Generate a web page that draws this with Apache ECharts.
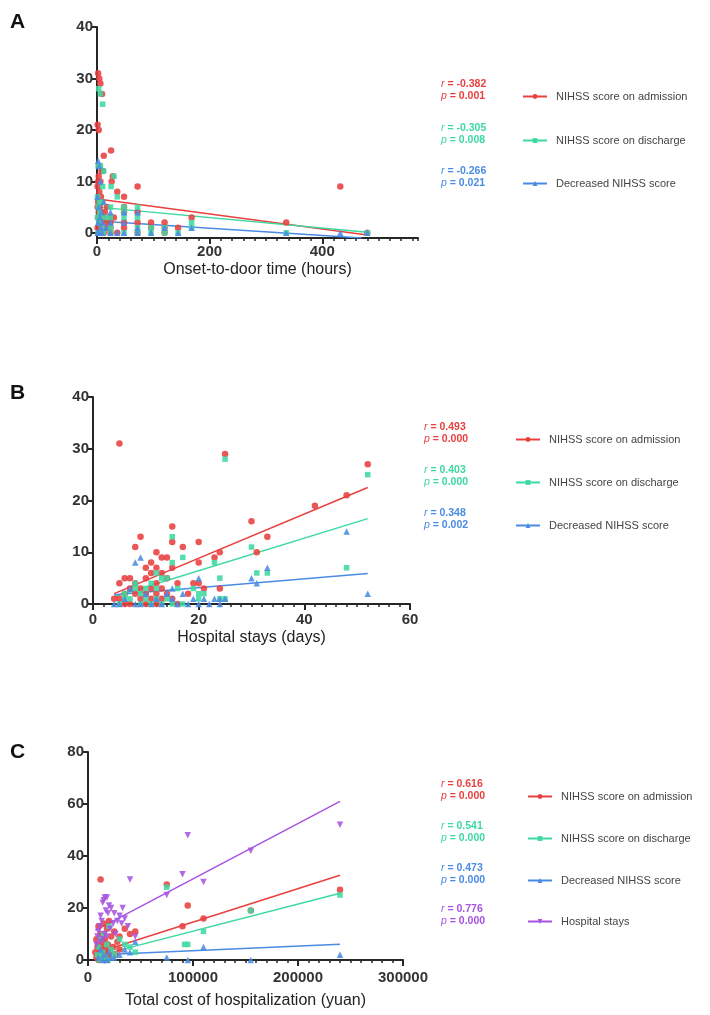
<!DOCTYPE html>
<html>
<head>
<meta charset="utf-8">
<script src="https://cdn.jsdelivr.net/npm/echarts@6/dist/echarts.min.js"></script>
<style>html,body{margin:0;padding:0;background:#fff;}#c{width:710px;height:1015px;}</style>
</head>
<body>
<div id="c"></div>
<script>
// ---------- Data ----------
const seriesNamesA = ['NIHSS score on admission', 'NIHSS score on discharge', 'Decreased NIHSS score'];
const seriesNamesC = ['NIHSS score on admission', 'NIHSS score on discharge', 'Decreased NIHSS score', 'Hospital stays'];
const xTitleA = 'Onset-to-door time (hours)';
const xTitleB = 'Hospital stays (days)';
const xTitleC = 'Total cost of hospitalization (yuan)';
const xLabelsA = [0, 200, 400];
const xLabelsB = [0, 20, 40, 60];
const xLabelsC = [0, 100000, 200000, 300000];
const yLabelsA = [0, 10, 20, 30, 40];
const yLabelsB = [0, 10, 20, 30, 40];
const yLabelsC = [0, 20, 40, 60, 80];

// Panel A: onset-to-door time (h) vs score
const aAdmission = [[2,31],[4,30],[6,29],[9,27],[1,21],[3,20],[12,15],[5,13],[8,12],[3,11],[10,12],[2,10],[6,10],[1,9],[4,8],[7,7],[2,6],[9,6],[5,5],[1,5],[3,4],[8,4],[11,3],[2,3],[6,2],[4,2],[10,1],[1,1],[7,0],[3,0],[12,0],
  [25,16],[28,11],[26,10],[24,3],[24,2],[24,1],[24,0],[36,8],[48,7],[48,5],[48,4],[48,2],[48,1],[72,9],[72,4],[72,2],[72,0],[96,2],[96,1],[120,2],[120,1],[120,0],[144,1],[168,3],[336,2],[432,9],[480,0],[18,5],[16,2],[20,1],[14,4],[30,3],[36,0]];
const aDischarge = [[3,28],[6,27],[10,25],[2,13],[6,13],[12,12],[1,7],[4,6],[8,6],[2,5],[10,9],[5,4],[1,3],[7,3],[3,2],[9,1],[2,0],[5,0],[11,0],[25,9],[24,5],[24,3],[24,1],[24,0],[48,5],[48,4],[48,3],[48,0],[72,5],[72,3],[72,1],[72,0],[96,1],[96,0],[120,1],[120,0],[144,0],[168,2],[168,1],[336,0],[480,0],[30,11],[36,7],[16,3]];
const aDecreased = [[2,14],[4,13],[6,10],[1,7],[3,5],[8,4],[5,3],[2,2],[10,2],[7,1],[1,0],[4,0],[9,0],[24,4],[24,2],[24,0],[36,0],[48,4],[48,2],[48,0],[72,4],[72,1],[72,0],[96,0],[120,1],[144,0],[168,1],[336,0],[432,0],[480,0],[12,6],[16,1]];
const aFitAdmission = [[1,6.6],[480,-0.4]];
const aFitDischarge = [[1,5.0],[480,0.1]];
const aFitDecreased = [[1,2.3],[470,-1.0]];
const aStats = [['-0.382','0.001'],['-0.305','0.008'],['-0.266','0.021']];

// Panel B: hospital stays (days) vs score
const bAdmission = [[5,31],[25,29],[52,27],[48,21],[42,19],[30,16],[15,15],[33,13],[9,13],[15,12],[20,12],[8,11],[17,11],[31,10],[24,10],[12,10],[13,9],[14,9],[23,9],[20,8],[11,8],[12,7],[10,7],[15,7],[13,6],[11,6],[10,5],[6,5],[7,5],[14,5],[12,4],[5,4],[8,4],[16,4],[19,4],[20,4],[9,3],[7,3],[11,3],[13,3],[21,3],[24,3],[6,2],[10,2],[12,2],[8,2],[14,2],[18,2],[5,1],[9,1],[11,1],[13,1],[15,1],[4,1],[7,0],[10,0],[12,0],[16,0],[6,0]];
const bDischarge = [[25,28],[52,25],[15,13],[30,11],[17,9],[15,8],[23,8],[48,7],[33,6],[31,6],[24,5],[12,6],[13,5],[14,5],[11,4],[10,3],[8,3],[9,2],[12,3],[16,3],[19,3],[20,2],[21,2],[14,1],[6,1],[7,1],[10,1],[11,0],[13,0],[5,0],[9,0],[15,0],[17,0],[20,1],[24,1],[25,1],[8,4],[12,1],[6,2]];
const bDecreased = [[48,14],[9,9],[8,8],[30,5],[20,5],[33,7],[31,4],[52,2],[23,1],[24,1],[25,1],[24,0],[16,0],[15,1],[14,2],[15,3],[10,2],[12,1],[6,1],[5,0],[4,0],[9,0],[11,0],[13,0],[17,2],[18,0],[20,0],[21,1],[7,3],[8,0],[19,1],[22,0]];
const bFitAdmission = [[4,2.0],[52,22.5]];
const bFitDischarge = [[4,1.4],[52,16.5]];
const bFitDecreased = [[4,1.8],[52,5.9]];
const bStats = [['0.493','0.000'],['0.403','0.000'],['0.348','0.002']];

// Panel C: total cost (yuan) vs score / stays
const cAdmission = [[12000,31],[75000,29],[240000,27],[95000,21],[155000,19],[110000,16],[90000,13],[35000,12],[45000,11],[40000,10],[30000,9],[20000,15],[15000,14],[10000,13],[18000,12],[25000,11],[12000,10],[22000,9],[8000,8],[16000,8],[14000,7],[28000,7],[10000,6],[19000,6],[9000,5],[13000,5],[24000,5],[11000,4],[17000,4],[7000,3],[15000,3],[21000,3],[9000,2],[12000,2],[18000,2],[8000,1],[14000,1],[20000,1],[10000,0],[16000,0],[26000,2],[30000,4]];
const cDischarge = [[240000,25],[75000,28],[155000,19],[110000,11],[95000,6],[92000,6],[45000,3],[40000,5],[35000,6],[30000,8],[20000,13],[15000,10],[12000,8],[18000,6],[10000,5],[22000,4],[14000,3],[9000,2],[16000,1],[11000,0],[25000,2],[19000,0],[13000,1]];
const cDecreased = [[240000,2],[110000,5],[75000,1],[155000,0],[40000,3],[35000,4],[45000,7],[95000,0],[20000,3],[15000,2],[10000,1],[12000,4],[25000,1],[30000,2],[18000,0],[14000,0],[22000,1]];
const cStays = [[95000,48],[240000,52],[155000,42],[90000,33],[110000,30],[40000,31],[75000,25],[16000,24],[18000,24],[15000,23],[20000,21],[14000,22],[22000,20],[33000,20],[25000,18],[30000,17],[35000,16],[17000,19],[19000,18],[12000,17],[13000,15],[28000,15],[11000,13],[24000,14],[21000,12],[10000,11],[16000,10],[9000,9],[14000,8],[12000,7],[8000,6],[18000,9],[26000,10],[32000,14],[38000,13],[45000,9]];
const cFitAdmission = [[7000,2.6],[240000,32.6]];
const cFitDischarge = [[7000,1.4],[240000,25.7]];
const cFitDecreased = [[7000,1.9],[240000,6.1]];
const cFitStays = [[7000,11.4],[240000,61]];
const cStats = [['0.616','0.000'],['0.541','0.000'],['0.473','0.000'],['0.776','0.000']];

// ---------- Styles ----------
const COLORS = ['#E8403F', '#3DD9A0', '#4A8BE3', '#A654E0'];
const SYMBOLS = ['circle', 'rect', 'triangle', 'triangle'];
const ROT = [0, 0, 0, 180];
const AX = '#262626';
const FONT = 'Liberation Sans, Arial, sans-serif';

const grids = [
  {left: 97, top: 27, width: 321, height: 211},
  {left: 93, top: 397, width: 317, height: 207},
  {left: 88, top: 752, width: 315, height: 208}
];

const xAxes = [];
const yAxes = [];
function addAxes(g, xmin, xmax, minorInt, xLabels, yMin, yMax, yLabels, title, labelMargin, nameGap) {
  // main x axis: line + minor ticks + labels
  xAxes.push({
    type: 'value', gridIndex: g, position: 'bottom', min: xmin, max: xmax, interval: minorInt,
    axisLine: {show: true, onZero: false, lineStyle: {color: AX, width: 2}},
    axisTick: {show: true, length: 3, lineStyle: {color: AX, width: 1.5}},
    axisLabel: {show: true, customValues: xLabels, margin: labelMargin, color: '#333', fontSize: 15, fontWeight: 'bold', fontFamily: FONT, formatter: (v) => String(v)},
    splitLine: {show: false},
    name: title, nameLocation: 'middle', nameGap: nameGap,
    nameTextStyle: {color: '#222', fontSize: 16, fontFamily: FONT}
  });
  // overlay axis for major ticks
  xAxes.push({
    type: 'value', gridIndex: g, position: 'bottom', min: xmin, max: xmax,
    axisLine: {show: false, onZero: false},
    axisTick: {show: true, length: 6, customValues: xLabels, lineStyle: {color: AX, width: 2}},
    axisLabel: {show: false}, splitLine: {show: false}
  });
  yAxes.push({
    type: 'value', gridIndex: g, min: yMin, max: yMax,
    axisLine: {show: true, onZero: false, lineStyle: {color: AX, width: 2}},
    axisTick: {show: true, length: 6, customValues: yLabels, lineStyle: {color: AX, width: 2}},
    axisLabel: {show: true, customValues: yLabels, margin: 4, color: '#333', fontSize: 15, fontWeight: 'bold', fontFamily: FONT, formatter: (v) => String(v)},
    splitLine: {show: false}
  });
}
addAxes(0, 0, 570, 20, xLabelsA, -1, 40, yLabelsA, xTitleA, 6, 24);
addAxes(1, 0, 60, 2, xLabelsB, 0, 40, yLabelsB, xTitleB, 8, 26);
addAxes(2, 0, 300000, 10000, xLabelsC, 0, 80, yLabelsC, xTitleC, 10, 33);

const series = [];
function addPanel(g, names, points, fits) {
  names.forEach((n, i) => {
    series.push({
      name: n + '#' + g, type: 'line', xAxisIndex: 2 * g, yAxisIndex: g,
      data: fits[i], showSymbol: false, symbol: SYMBOLS[i], symbolRotate: ROT[i], symbolSize: 6,
      lineStyle: {color: COLORS[i], width: 1.5}, itemStyle: {color: COLORS[i]},
      silent: true, z: 2, animation: false
    });
  });
  names.forEach((n, i) => {
    series.push({
      name: n + '#s' + g, type: 'scatter', xAxisIndex: 2 * g, yAxisIndex: g,
      data: points[i], symbol: SYMBOLS[i], symbolRotate: ROT[i], symbolSize: i === 1 ? 5.5 : 6.5,
      itemStyle: {color: COLORS[i], opacity: 0.88}, z: 3 + i, animation: false, clip: false
    });
  });
}
addPanel(0, seriesNamesA, [aAdmission, aDischarge, aDecreased], [aFitAdmission, aFitDischarge, aFitDecreased]);
addPanel(1, seriesNamesA, [bAdmission, bDischarge, bDecreased], [bFitAdmission, bFitDischarge, bFitDecreased]);
addPanel(2, seriesNamesC, [cAdmission, cDischarge, cDecreased, cStays], [cFitAdmission, cFitDischarge, cFitDecreased, cFitStays]);

// legends & stats
const legends = [];
const graphics = [];
function addLegendBlock(g, names, stats, statLeft, symLeft, ys) {
  names.forEach((n, i) => {
    legends.push({
      data: [n + '#' + g], left: symLeft, top: ys[i] - 6, itemWidth: 24, itemHeight: 6, itemGap: 0,
      selectedMode: false, formatter: (s) => s.split('#')[0],
      textStyle: {color: '#444', fontSize: 11, fontFamily: FONT, padding: [0, 0, 0, 4]}
    });
    graphics.push({
      type: 'text', left: statLeft, top: ys[i] - 14,
      style: {
        text: '{i|r} = ' + stats[i][0] + '\n{i|p} = ' + stats[i][1],
        rich: {i: {fontStyle: 'italic', fontSize: 10.5, fontFamily: FONT, fill: COLORS[i]}},
        fill: COLORS[i], font: 'bold 10.5px ' + FONT, lineHeight: 12
      }
    });
  });
}
addLegendBlock(0, seriesNamesA, aStats, 441, 517, [92, 136, 179]);
addLegendBlock(1, seriesNamesA, bStats, 424, 510, [435, 478, 521]);
addLegendBlock(2, seriesNamesC, cStats, 441, 522, [792, 834, 876, 917]);

const letters = [['A', 10, 12], ['B', 10, 383], ['C', 10, 742]];
letters.forEach(l => graphics.push({type: 'text', left: l[1], top: l[2], style: {text: l[0], font: 'bold 21px ' + FONT, fill: '#111'}}));

const chart = echarts.init(document.getElementById('c'), null, {renderer: 'canvas'});
chart.setOption({
  backgroundColor: '#fff',
  animation: false,
  grid: grids,
  xAxis: xAxes,
  yAxis: yAxes,
  legend: legends,
  series: series,
  graphic: graphics
});
</script>
</body>
</html>
